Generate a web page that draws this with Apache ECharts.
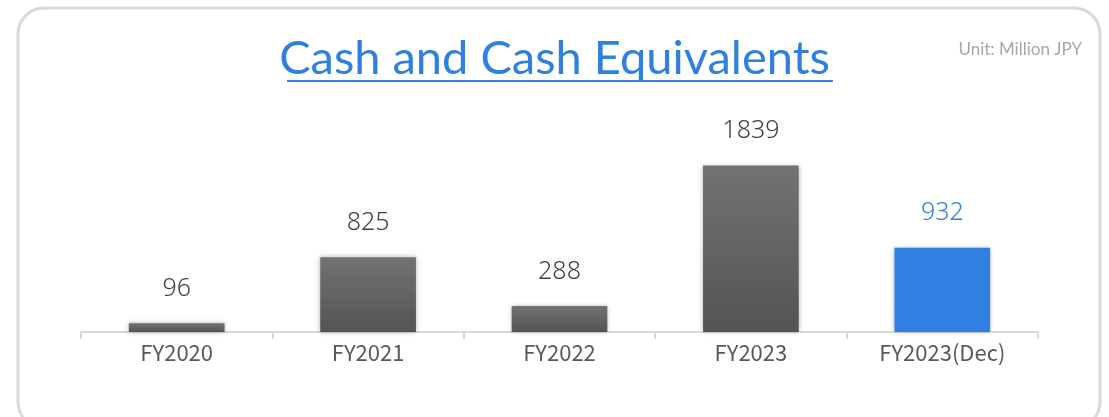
<!DOCTYPE html>
<html>
<head>
<meta charset="utf-8">
<script src="https://cdn.jsdelivr.net/npm/echarts@6/dist/echarts.min.js"></script>
<style>
  html, body { margin: 0; padding: 0; background: #fff; }
  #chart { width: 1109px; height: 417px; }
</style>
</head>
<body>
<div id="chart"></div>
<script>
const categories = ["FY2020", "FY2021", "FY2022", "FY2023", "FY2023(Dec)"];
const cashValues = [96, 825, 288, 1839, 932];
const highlightIndex = 4;

const greyBar = new echarts.graphic.LinearGradient(0, 0, 0, 1, [
  { offset: 0, color: "#727272" },
  { offset: 1, color: "#545454" }
]);

const chart = echarts.init(document.getElementById("chart"));
chart.setOption({
  animation: false,
  graphic: [
    {
      type: "rect",
      shape: { x: 18, y: 8, width: 1082, height: 420, r: 26 },
      style: { fill: "#fff", stroke: "#d9d9d9", lineWidth: 3 },
      z: -10
    },
    {
      type: "rect",
      shape: { x: 287, y: 80, width: 546, height: 2 },
      style: { fill: "#2f80e0" }
    }
  ],
  title: [
    {
      text: "Cash and Cash Equivalents",
      left: "center",
      top: 30,
      textStyle: {
        fontFamily: "Lato",
        fontWeight: "normal",
        fontSize: 47,
        color: "#2f80e0"
      }
    },
    {
      text: "Unit: Million JPY",
      right: 22,
      top: 36,
      textStyle: {
        fontFamily: "Lato",
        fontWeight: "normal",
        fontSize: 17,
        color: "#a6a6a6"
      }
    }
  ],
  grid: { left: 81, right: 71, top: 151, bottom: 85 },
  xAxis: {
    type: "category",
    data: categories,
    axisLine: { lineStyle: { color: "#d9d9d9", width: 2 } },
    axisTick: { show: true, length: 7, lineStyle: { color: "#d9d9d9", width: 2 } },
    axisLabel: {
      color: "#595959",
      fontSize: 22,
      fontFamily: "Noto Sans CJK JP",
      margin: 10
    }
  },
  yAxis: {
    type: "value",
    min: 0,
    max: 2000,
    show: false,
    splitLine: { show: false }
  },
  series: [
    {
      type: "bar",
      barWidth: "50%",
      data: cashValues.map(function (v, i) {
        return {
          value: v,
          itemStyle: i === highlightIndex
            ? { color: "#2f80e0" }
            : { color: greyBar },
          label: i === highlightIndex ? { color: "#2f80e0" } : {}
        };
      }),
      itemStyle: {
        shadowColor: "rgba(0,0,0,0.3)",
        shadowBlur: 5,
        shadowOffsetX: 0,
        shadowOffsetY: 0
      },
      label: {
        show: true,
        position: "top",
        distance: 22,
        fontFamily: "Noto Sans",
        fontWeight: 300,
        fontSize: 25,
        color: "#404040"
      }
    }
  ]
});
</script>
</body>
</html>
